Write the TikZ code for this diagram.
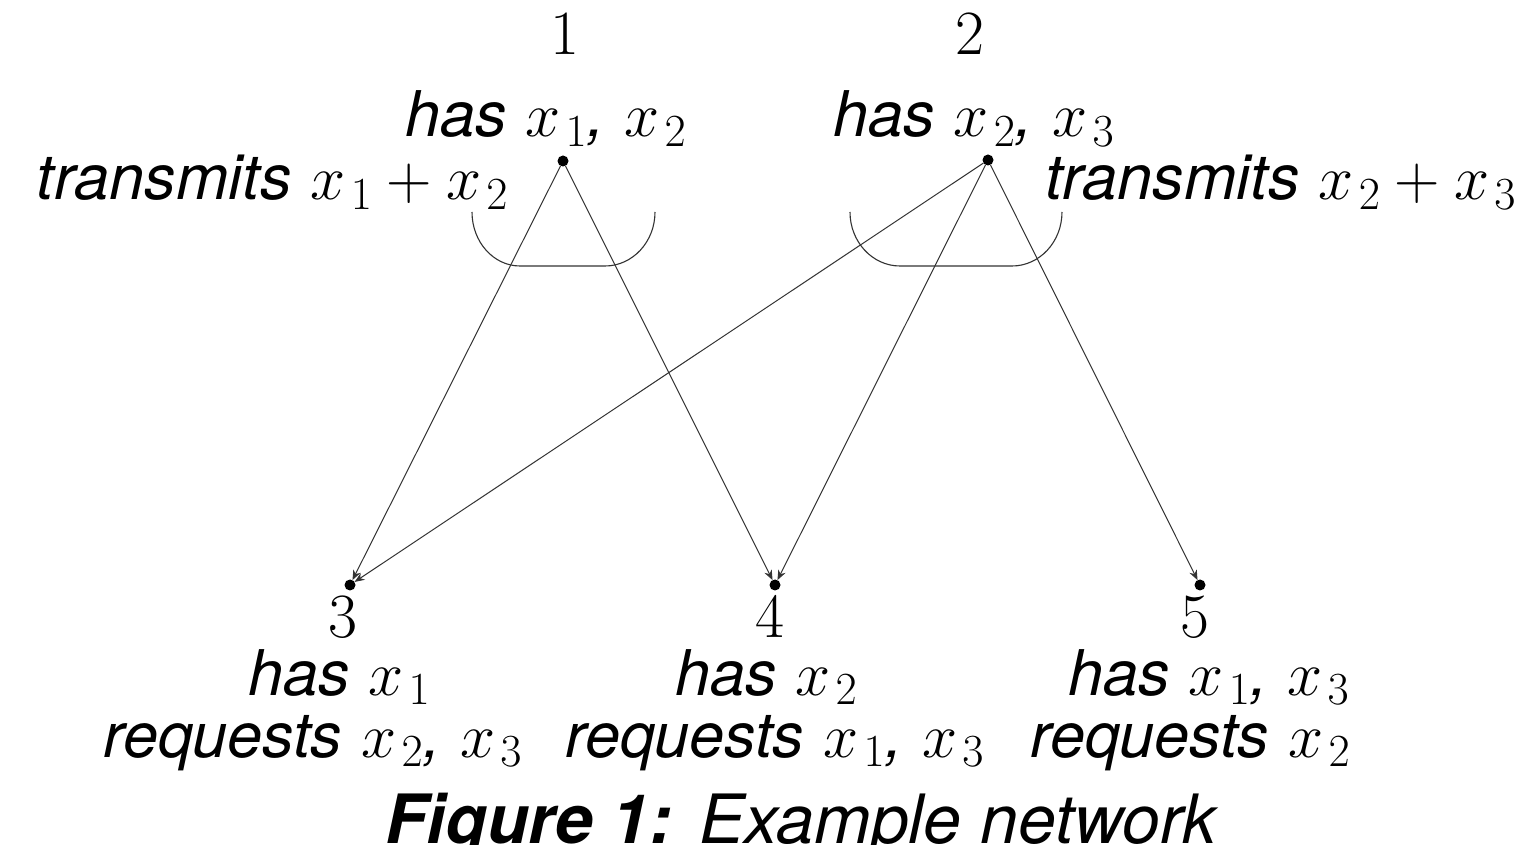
\RequirePackage{fix-cm}
\documentclass[tikz,border=0pt]{standalone}
\usepackage{fontspec}
\newfontfamily\hv{TeX Gyre Heros}
\usetikzlibrary{arrows.meta}
\DeclareMathSizes{31.5}{31.5}{23}{17}
\newcommand{\hi}[1]{{\hv\itshape #1}}
% a packet symbol with a slightly detached index
\newcommand{\xx}[1]{x_{\mkern2mu#1}}
\begin{document}
\begin{tikzpicture}[x=0.5pt,y=-0.5pt,
  every node/.style={inner sep=0pt,outer sep=0pt,font=\fontsize{31.5}{36}\selectfont},
  dot/.style={circle,fill=black,minimum size=5.5pt},
  lbl/.style={anchor=base west},
  num/.style={anchor=base},
  edge/.style={draw=black!80,line width=0.5pt,-{Stealth[length=5pt,width=4pt]}},
  bracket/.style={draw=black!80,line width=0.55pt}]
\useasboundingbox (0,0) rectangle (1539,845);
\clip (0,0) rectangle (1539,845);

% terminals
\node[dot] (n1) at (563,161) {};
\node[dot] (n2) at (988,160) {};
\node[dot] (n3) at (350,585) {};
\node[dot] (n4) at (775,585) {};
\node[dot] (n5) at (1200,585) {};

% labels of the two transmitting nodes
\node[num] (t1) at (565,55) {$1$};
\node[lbl] (h1) at (405,137) {\hi{has} $\xx1$\hi{,} $\xx2$};
\node[lbl] (s1) at (37,200) {\hi{transmits} $\xx1+\xx2$};
\node[num] (t2) at (970,55) {$2$};
\node[lbl] (h2) at (833,137) {\hi{has} $\xx2$\hi{,} $\xx3$};
\node[lbl] (s2) at (1045,200) {\hi{transmits} $\xx2+\xx3$};

% labels of the receiving nodes
\node[num] (t3) at (343,638) {$3$};
\node[lbl] (h3) at (248,695) {\hi{has} $\xx1$};
\node[lbl] (r3) at (103,757) {\hi{requests} $\xx2$\hi{,} $\xx3$};
\node[num] (t4) at (770,638) {$4$};
\node[lbl] (h4) at (675,695) {\hi{has} $\xx2$};
\node[lbl] (r4) at (565,757) {\hi{requests} $\xx1$\hi{,} $\xx3$};
\node[num] (t5) at (1195,638) {$5$};
\node[lbl] (h5) at (1068,695) {\hi{has} $\xx1$\hi{,} $\xx3$};
\node[lbl] (r5) at (1030,757) {\hi{requests} $\xx2$};

% broadcast brackets
\draw[bracket] (472,212) arc[start angle=180,end angle=90,x radius=48,y radius=54]
  -- (605,266) arc[start angle=90,end angle=0,x radius=50,y radius=54];
\draw[bracket] (850,212) arc[start angle=180,end angle=90,x radius=50,y radius=54]
  -- (1012,266) arc[start angle=90,end angle=0,x radius=50,y radius=54];

% connectors
\draw[edge] (n1) -- (n3);
\draw[edge] (n1) -- (n4);
\draw[edge] (n2) -- (n3);
\draw[edge] (n2) -- (n4);
\draw[edge] (n2) -- (n5);

% caption
\node[lbl,font=\fontsize{34}{40}\selectfont] (cap) at (385,843) {{\hv\itshape\bfseries Figure 1:} \hi{Example network}};
\end{tikzpicture}
\end{document}
